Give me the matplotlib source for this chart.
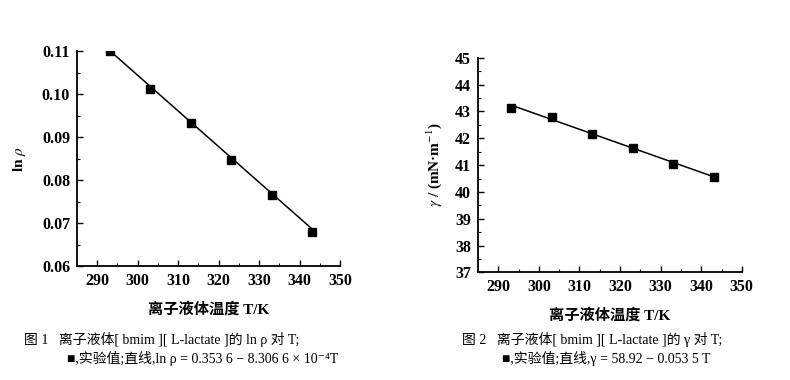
import numpy as np
import matplotlib
matplotlib.use("Agg")
import matplotlib.pyplot as plt
from matplotlib.ticker import MultipleLocator

plt.rcParams['font.family'] = ['Liberation Serif', 'Noto Sans CJK SC', 'DejaVu Serif']
plt.rcParams['mathtext.fontset'] = 'stix'

# data
T = [293.15, 303.15, 313.15, 323.15, 333.15, 343.15]
ln_rho = [0.1100, 0.1012, 0.0934, 0.0848, 0.0766, 0.0680]
gamma = [43.12, 42.78, 42.17, 41.62, 41.03, 40.55]

# fitted lines from the captions
fit_rho = [0.3536, -8.3066e-4]
fit_gamma = [58.92, -0.0535]

xlabel = '离子液体温度 T/K'
cap1 = ['图 1   离子液体[ bmim ][ L-lactate ]的 ln ρ 对 T;',
        '■,实验值;直线,ln ρ = 0.353 6 − 8.306 6 × 10⁻⁴T']
cap2 = ['图 2   离子液体[ bmim ][ L-lactate ]的 γ 对 T;',
        '■,实验值;直线,γ = 58.92 − 0.053 5 T']

fig = plt.figure(figsize=(7.9, 3.8), dpi=100)
ax1 = fig.add_axes([0.0975, 0.300, 0.333, 0.565])
ax2 = fig.add_axes([0.605, 0.283, 0.334, 0.565])


def style(ax, ylim, major, minor):
    ax.set_xlim(285, 350)
    ax.set_ylim(*ylim)
    ax.xaxis.set_major_locator(MultipleLocator(10))
    ax.xaxis.set_minor_locator(MultipleLocator(5))
    ax.yaxis.set_major_locator(MultipleLocator(major))
    ax.yaxis.set_minor_locator(MultipleLocator(minor))
    for s in ['top', 'right']:
        ax.spines[s].set_visible(False)
    for s in ['left', 'bottom']:
        ax.spines[s].set_linewidth(1.3)
    ax.tick_params(which='major', direction='in', length=4, width=1,
                   labelsize=11.5, pad=5)
    ax.tick_params(which='minor', direction='in', length=2.5, width=0.8)
    for lab in ax.get_xticklabels() + ax.get_yticklabels():
        lab.set_fontweight('bold')
    ax.set_xlabel(xlabel, fontsize=11, fontweight='bold', labelpad=9)


tt = np.array([T[0], T[-1]])

ax1.plot(tt, fit_rho[0] + fit_rho[1] * tt, color='black', lw=1.1)
ax1.plot(T, ln_rho, 's', color='black', ms=5.5)
style(ax1, (0.06, 0.11), 0.01, 0.005)
ax1.yaxis.set_major_formatter(plt.FormatStrFormatter('%.2f'))
for lab in ax1.get_yticklabels():
    lab.set_fontweight('bold')
ax1.set_ylabel('ln $\\rho$', fontsize=11, fontweight='bold', labelpad=10)

ax2.plot(tt, fit_gamma[0] + fit_gamma[1] * tt, color='black', lw=1.1)
ax2.plot(T, gamma, 's', color='black', ms=5.5)
style(ax2, (37, 45), 1, 0.5)
ax2.set_ylabel('$\\gamma$ / (mN·m$^{-1}$)', fontsize=11, fontweight='bold', labelpad=8)

fig.text(0.030, 0.095, cap1[0], fontsize=10)
fig.text(0.085, 0.045, cap1[1], fontsize=10)
fig.text(0.585, 0.095, cap2[0], fontsize=10)
fig.text(0.636, 0.045, cap2[1], fontsize=10)

fig.savefig('out.png', dpi=100)
